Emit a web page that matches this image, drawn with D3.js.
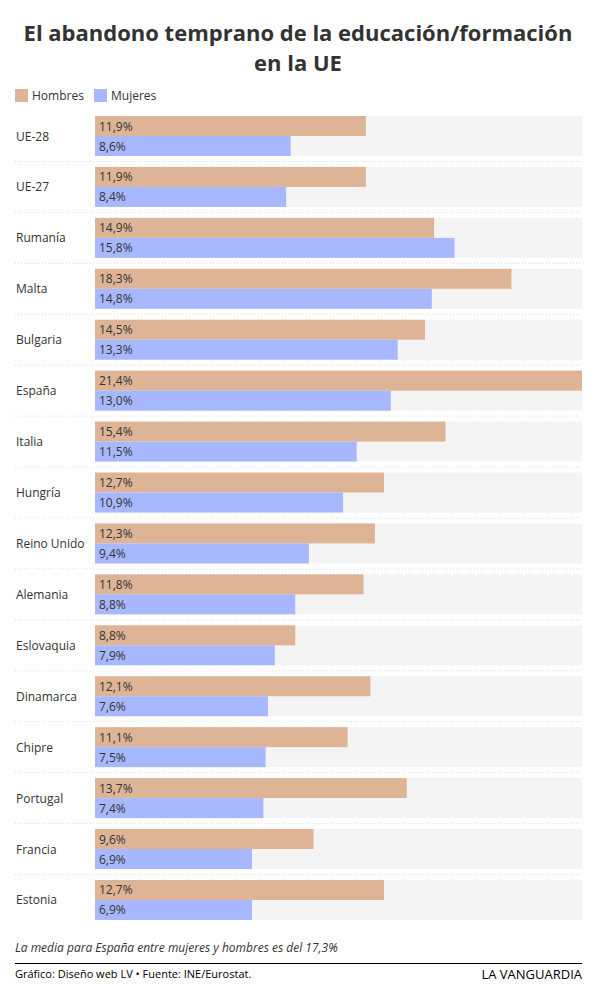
<!DOCTYPE html>
<html>
<head>
<meta charset="utf-8">
<script src="https://cdn.jsdelivr.net/npm/d3@7"></script>
<style>
  body { margin: 0; background: #fff; font-family: "Open Sans", sans-serif; }
  text { fill: #333; }
</style>
</head>
<body>
<svg id="chart" width="615" height="996"></svg>
<script>
"use strict";
var countries = [ "UE-28", "UE-27", "Rumanía", "Malta", "Bulgaria", "España", "Italia", "Hungría",
  "Reino Unido", "Alemania", "Eslovaquia", "Dinamarca", "Chipre", "Portugal", "Francia", "Estonia" ];
var hombres = [ 11.9, 11.9, 14.9, 18.3, 14.5, 21.4, 15.4, 12.7, 12.3, 11.8, 8.8, 12.1, 11.1, 13.7, 9.6, 12.7 ];
var mujeres = [ 8.6, 8.4, 15.8, 14.8, 13.3, 13.0, 11.5, 10.9, 9.4, 8.8, 7.9, 7.6, 7.5, 7.4, 6.9, 6.9 ];
var seriesNames = [ "Hombres", "Mujeres" ];
var colors = [ "#deb496", "#a8b8ff" ];

var svg = d3.select( "#chart" );
var marginLeft = 95, marginRight = 582, marginTop = 116, rowStep = 50.93, barH = 20;

var x = d3.scaleLinear().domain( [ 0, d3.max( hombres.concat( mujeres ) ) ] ).range( [ marginLeft, marginRight ] );
var y = d3.scaleBand().domain( countries ).range( [ marginTop, marginTop + rowStep * countries.length ] ).paddingInner( 0 );

function fmt( v ) {
  return d3.format( ".1f" )( v ).replace( ".", "," ) + "%";
}

// title
svg.append( "text" ).attr( "x", 298 ).attr( "y", 41 ).attr( "text-anchor", "middle" )
   .style( "font-size", "22px" ).style( "font-weight", 700 ).text( "El abandono temprano de la educación/formación" );
svg.append( "text" ).attr( "x", 298 ).attr( "y", 71 ).attr( "text-anchor", "middle" )
   .style( "font-size", "22px" ).style( "font-weight", 700 ).text( "en la UE" );

// legend
var legX = [ 15, 94 ];
seriesNames.forEach( function( name, i ) {
  svg.append( "rect" ).attr( "x", legX[i] ).attr( "y", 89 ).attr( "width", 13 ).attr( "height", 13 ).attr( "fill", colors[i] );
  svg.append( "text" ).attr( "x", legX[i] + 17 ).attr( "y", 100 ).style( "font-size", "12px" ).text( name );
} );

var rows = svg.selectAll( ".row" ).data( countries ).enter().append( "g" )
  .attr( "class", "row" )
  .attr( "transform", function( d ) { return "translate(0," + y( d ) + ")"; } );

rows.append( "rect" ).attr( "x", marginLeft ).attr( "y", 0 ).attr( "width", marginRight - marginLeft ).attr( "height", barH * 2 ).attr( "fill", "#f4f4f4" );

rows.append( "rect" ).attr( "x", marginLeft ).attr( "y", 0 ).attr( "height", barH ).attr( "fill", colors[0] )
    .attr( "width", function( d, i ) { return x( hombres[i] ) - marginLeft; } );
rows.append( "rect" ).attr( "x", marginLeft ).attr( "y", barH ).attr( "height", barH ).attr( "fill", colors[1] )
    .attr( "width", function( d, i ) { return x( mujeres[i] ) - marginLeft; } );

rows.append( "text" ).attr( "x", marginLeft + 4 ).attr( "y", 14.5 ).style( "font-size", "12px" )
    .text( function( d, i ) { return fmt( hombres[i] ); } );
rows.append( "text" ).attr( "x", marginLeft + 4 ).attr( "y", 34.5 ).style( "font-size", "12px" )
    .text( function( d, i ) { return fmt( mujeres[i] ); } );

rows.append( "text" ).attr( "x", 16 ).attr( "y", 24.5 ).style( "font-size", "12px" ).text( function( d ) { return d; } );

rows.filter( function( d, i ) { return i < countries.length - 1; } )
    .append( "line" ).attr( "x1", 15 ).attr( "x2", marginRight ).attr( "y1", 45.5 ).attr( "y2", 45.5 )
    .attr( "stroke", "#dcdcdc" ).attr( "stroke-width", 1 ).attr( "stroke-dasharray", "1,2" );

// footer
svg.append( "text" ).attr( "x", 15 ).attr( "y", 952 ).style( "font-size", "12px" ).style( "font-style", "italic" )
   .text( "La media para España entre mujeres y hombres es del 17,3%" );
svg.append( "line" ).attr( "x1", 15 ).attr( "x2", marginRight ).attr( "y1", 963.5 ).attr( "y2", 963.5 ).attr( "stroke", "#000" );
svg.append( "text" ).attr( "x", 15 ).attr( "y", 978 ).style( "font-size", "11px" ).style( "fill", "#000" )
   .text( "Gráfico: Diseño web LV • Fuente: INE/Eurostat." );
svg.append( "text" ).attr( "x", marginRight ).attr( "y", 979 ).attr( "text-anchor", "end" ).style( "font-size", "13px" ).style( "fill", "#000" )
   .text( "LA VANGUARDIA" );
</script>
</body>
</html>
